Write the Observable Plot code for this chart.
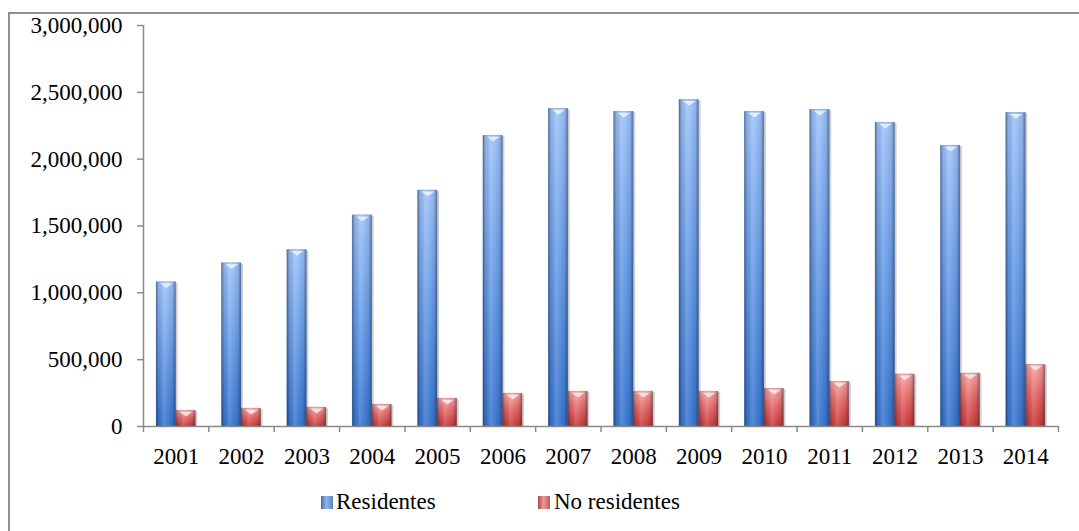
<!DOCTYPE html>
<html>
<head>
<meta charset="utf-8">
<script src="https://cdn.jsdelivr.net/npm/d3@7"></script>
<script src="https://cdn.jsdelivr.net/npm/@observablehq/plot@0.6"></script>
<style>
  html, body { margin: 0; padding: 0; background: #fff; overflow: hidden; }
  #wrap { position: relative; width: 1079px; height: 531px; overflow: hidden; }
  #border { position: absolute; left: 8px; top: 12px; width: 2000px; height: 2000px;
            border-left: 2px solid #8e8e8e; border-top: 2px solid #8e8e8e; box-sizing: border-box; }
  #chart { position: absolute; left: 0; top: 0; }
  .leg { position: absolute; top: 489px; font-family: "Liberation Serif", "DejaVu Serif", serif;
         font-size: 23px; color: #000; white-space: nowrap; }
  .sw { position: absolute; top: 496px; width: 12px; height: 13px; }
</style>
</head>
<body>
<div id="wrap">
  <div id="border"></div>
  <div id="chart"></div>
  <div class="sw" style="left:321px;background:linear-gradient(to right,#4a6ea8,#8fb4ec 45%,#5a86c8);"></div>
  <div class="leg" style="left:336px;">Residentes</div>
  <div class="sw" style="left:538px;background:linear-gradient(to right,#a84848,#eb9a9a 45%,#c05858);"></div>
  <div class="leg" style="left:554px;">No residentes</div>
</div>
<script>
const years = [2001, 2002, 2003, 2004, 2005, 2006, 2007, 2008, 2009, 2010, 2011, 2012, 2013, 2014];
const residentes = [1080000, 1222000, 1321000, 1580000, 1766000, 2176000, 2377000, 2355000, 2444000, 2355000, 2370000, 2273000, 2101000, 2347000];
const noResidentes = [119000, 134000, 142000, 164000, 209000, 246000, 261000, 261000, 261000, 283000, 335000, 390000, 397000, 462000];
const yTicks = [0, 500000, 1000000, 1500000, 2000000, 2500000, 3000000];

const BAR = 0.3; // bar width as a fraction of a category
const res = years.map((year, i) => ({year, value: residentes[i]}));
const nores = years.map((year, i) => ({year, value: noResidentes[i]}));
const boundaries = [...years.map(y => y - 0.5), years[years.length - 1] + 0.5];

const axisColor = "#8a8a8a";
const font = "'Liberation Serif', 'DejaVu Serif', serif";

// flat, downward-pointing bevel chevron used on bar tops
const chevron = {
  draw(ctx, size) {
    const r = Math.sqrt(size / Math.PI);
    const hw = r * 1.6, h = r * 1.2;
    ctx.moveTo(-hw, -h / 2);
    ctx.lineTo(hw, -h / 2);
    ctx.lineTo(0, h / 2);
    ctx.closePath();
  }
};

function defs() {
  const d = d3.create("svg:defs");
  const lin = (id, stops, x2, y2) => {
    const g = d.append("linearGradient").attr("id", id)
      .attr("x1", 0).attr("y1", 0).attr("x2", x2).attr("y2", y2);
    stops.forEach(([o, c, op]) => g.append("stop").attr("offset", o).attr("stop-color", c).attr("stop-opacity", op ?? 1));
  };
  lin("resV", [[0, "#9cc1fa"], [0.45, "#6a9ee9"], [1, "#3674cf"]], 0, 1);
  lin("noV", [[0, "#f8a4a4"], [0.45, "#e56868"], [1, "#c93636"]], 0, 1);
  lin("cyl", [[0, "#1c2f55", 0.55], [0.12, "#000", 0.1], [0.4, "#fff", 0.16], [0.55, "#fff", 0.08], [0.85, "#000", 0.08], [1, "#1c2f55", 0.5]], 1, 0);
  return d.node();
}

const chart = Plot.plot({
  width: 1079,
  height: 480,
  marginLeft: 143,
  marginRight: 21,
  marginTop: 25,
  marginBottom: 54,
  style: {fontFamily: font, fontSize: "23px", color: "#000", background: "transparent"},
  x: {type: "linear", domain: [years[0] - 0.5, years[years.length - 1] + 0.5], axis: null},
  y: {domain: [0, 3000000], axis: null},
  marks: [
    defs,
    // shadows
    Plot.rectY(res, {x1: d => d.year - BAR, x2: d => d.year, y: "value", fill: "#000", fillOpacity: 0.18, dx: 2, dy: 1}),
    Plot.rectY(nores, {x1: d => d.year, x2: d => d.year + BAR, y: "value", fill: "#000", fillOpacity: 0.18, dx: 2, dy: 1}),
    // bars
    Plot.rectY(res, {x1: d => d.year - BAR, x2: d => d.year, y: "value", fill: "url(#resV)"}),
    Plot.rectY(nores, {x1: d => d.year, x2: d => d.year + BAR, y: "value", fill: "url(#noV)"}),
    Plot.rectY(res, {x1: d => d.year - BAR, x2: d => d.year, y: "value", fill: "url(#cyl)", stroke: "#3f5f8f", strokeOpacity: 0.35, strokeWidth: 0.6}),
    Plot.rectY(nores, {x1: d => d.year, x2: d => d.year + BAR, y: "value", fill: "url(#cyl)", stroke: "#8f3f3f", strokeOpacity: 0.35, strokeWidth: 0.6}),
    // top bevels
    Plot.dot(res, {x: d => d.year - BAR / 2, y: "value", symbol: chevron, r: 4, fill: "#eef5ff", fillOpacity: 0.85, dy: 3.5}),
    Plot.dot(nores, {x: d => d.year + BAR / 2, y: "value", symbol: chevron, r: 4, fill: "#ffecec", fillOpacity: 0.85, dy: 3.5}),
    // axes
    Plot.ruleY([0], {stroke: axisColor, strokeWidth: 1.5}),
    Plot.ruleX([years[0] - 0.5], {y1: 0, y2: 3000000, stroke: axisColor, strokeWidth: 1.5}),
    Plot.axisY({ticks: yTicks, tickSize: 6, tickPadding: 15, tickFormat: d3.format(","), stroke: axisColor, strokeWidth: 1.5, fontSize: 23, fontFamily: font, label: null}),
    Plot.axisX({ticks: boundaries, tickSize: 6, tickFormat: () => "", stroke: axisColor, strokeWidth: 1.5, label: null}),
    Plot.axisX({ticks: years, tickSize: 0, tickPadding: 21, tickFormat: d => String(d), fontSize: 23, fontFamily: font, label: null})
  ]
});
document.getElementById("chart").appendChild(chart);
</script>
</body>
</html>
